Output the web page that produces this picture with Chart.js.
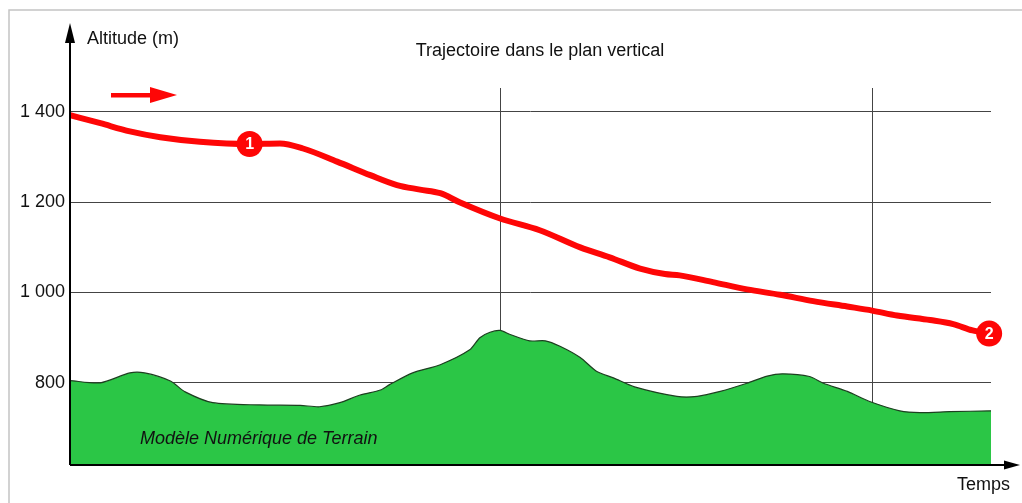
<!DOCTYPE html>
<html>
<head>
<meta charset="utf-8">
<script src="https://cdn.jsdelivr.net/npm/chart.js@4/dist/chart.umd.min.js"></script>
<style>
  html, body { margin: 0; padding: 0; background: #fff; }
</style>
</head>
<body>
<canvas id="profil" width="1022" height="503"></canvas>
<script>
// Data (time in arbitrary units 0-100, altitude in m)
const trajTime = [0, 3.3, 6.5, 9.8, 14.1, 19.5, 22.8, 25.3, 29.0, 32.6, 35.5, 38.0, 40.2, 42.3, 46.7, 51.0, 55.4, 58.6, 61.9, 64.6, 66.2, 69.8, 73.5, 77.1, 80.7, 84.4, 87.1, 89.8, 93.4, 95.9, 98.0, 99.8];
const trajAlt  = [1393, 1375, 1357, 1344, 1334, 1329, 1330, 1319, 1290, 1260, 1238, 1228, 1220, 1200, 1164, 1138, 1100, 1078, 1053, 1041, 1038, 1023, 1007, 995, 981, 969, 960, 949, 939, 930, 916, 909];

const terrainTime = [0, 3.3, 6.5, 8.1, 10.9, 12.5, 15.5, 20.6, 25.0, 27.1, 29.3, 31.5, 33.7, 34.7, 37.2, 40.2, 43.4, 44.5, 45.6, 46.7, 47.8, 49.9, 51.6, 53.2, 55.4, 57.2, 59.0, 61.3, 65.9, 68.1, 70.6, 73.5, 75.7, 77.4, 80.3, 81.8, 84.4, 86.9, 90.1, 92.3, 95.5, 100];
const terrainAlt  = [805, 800, 822, 822, 804, 780, 756, 751, 750, 747, 756, 773, 784, 796, 822, 840, 873, 900, 912, 916, 907, 893, 893, 881, 856, 825, 811, 791, 770, 770, 781, 799, 815, 820, 814, 799, 781, 758, 738, 734, 736, 738];

const markerTime = [19.5, 99.8];
const markerAlt = [1329, 909];
const markerLabels = ['1', '2'];

const altTicks = [800, 1000, 1200, 1400];
const altTickLabels = ['800', '1 000', '1 200', '1 400'];
const timeLines = [46.7, 87.1];

const FONT = "'Liberation Sans', Arial, sans-serif";
const RED = '#fe0606';

function pts(xs, ys) {
    return xs.map((x, i) => ({ x: x, y: ys[i] }));
}

// frame, vertical reference lines, axes with arrows, texts
const decor = {
    id: 'decor',
    beforeDraw(chart) {
        const c = chart.ctx;
        c.save();
        c.fillStyle = '#fff';
        c.fillRect(0, 0, chart.width, chart.height);
        c.strokeStyle = '#c4c4c4';
        c.lineWidth = 1.5;
        c.beginPath();
        c.moveTo(9, chart.height);
        c.lineTo(9, 10);
        c.lineTo(chart.width, 10);
        c.stroke();
        c.restore();
    },
    beforeDatasetsDraw(chart) {
        const c = chart.ctx;
        const a = chart.chartArea;
        const xs = chart.scales.x;
        c.save();
        c.strokeStyle = '#444';
        c.lineWidth = 1;
        timeLines.forEach(t => {
            const px = Math.round(xs.getPixelForValue(t)) + 0.5;
            c.beginPath();
            c.moveTo(px, a.top);
            c.lineTo(px, a.bottom);
            c.stroke();
        });
        c.restore();
    },
    afterDraw(chart) {
        const c = chart.ctx;
        const a = chart.chartArea;
        c.save();

        // axes
        c.strokeStyle = '#000';
        c.fillStyle = '#000';
        c.lineWidth = 2;
        c.beginPath();
        c.moveTo(a.left, a.bottom);
        c.lineTo(a.left, 40);
        c.moveTo(a.left, a.bottom);
        c.lineTo(1006, a.bottom);
        c.stroke();
        c.beginPath();
        c.moveTo(a.left, 23);
        c.lineTo(a.left - 5, 43);
        c.lineTo(a.left + 5, 43);
        c.closePath();
        c.fill();
        c.beginPath();
        c.moveTo(1020, a.bottom);
        c.lineTo(1004, a.bottom - 4.5);
        c.lineTo(1004, a.bottom + 4.5);
        c.closePath();
        c.fill();

        // direction arrow
        c.fillStyle = RED;
        c.fillRect(111, 93, 41, 4.5);
        c.beginPath();
        c.moveTo(177, 95);
        c.lineTo(150, 87);
        c.lineTo(150, 103);
        c.closePath();
        c.fill();

        // texts
        c.fillStyle = '#111';
        c.font = '18px ' + FONT;
        c.textBaseline = 'middle';
        c.textAlign = 'left';
        c.fillText('Altitude (m)', 87, 39);
        c.fillText('Temps', 957, 485);
        c.textAlign = 'center';
        c.fillText('Trajectoire dans le plan vertical', 540, 51);
        c.textAlign = 'left';
        c.font = 'italic 18px ' + FONT;
        c.fillText('Modèle Numérique de Terrain', 140, 439);

        // marker numbers
        const meta = chart.getDatasetMeta(0);
        c.fillStyle = '#fff';
        c.font = 'bold 16px ' + FONT;
        c.textAlign = 'center';
        meta.data.forEach((p, i) => {
            c.fillText(markerLabels[i], p.x, p.y + 1);
        });
        c.restore();
    }
};

const chart = new Chart(document.getElementById('profil'), {
    type: 'line',
    data: {
        datasets: [
            {
                label: 'Repères',
                data: pts(markerTime, markerAlt),
                showLine: false,
                pointRadius: 13,
                pointHoverRadius: 13,
                pointBackgroundColor: RED,
                pointBorderWidth: 0,
                clip: false
            },
            {
                label: 'Trajectoire',
                data: pts(trajTime, trajAlt),
                borderColor: RED,
                borderWidth: 6,
                borderCapStyle: 'round',
                borderJoinStyle: 'round',
                cubicInterpolationMode: 'monotone',
                pointRadius: 0,
                fill: false
            },
            {
                label: 'Modèle Numérique de Terrain',
                data: pts(terrainTime, terrainAlt),
                borderColor: '#1d3f20',
                borderWidth: 1.2,
                backgroundColor: '#2bc646',
                tension: 0.25,
                pointRadius: 0,
                fill: 'start'
            }
        ]
    },
    options: {
        responsive: false,
        animation: false,
        layout: {
            padding: { top: 88, bottom: 38, right: 31, left: 0 }
        },
        plugins: {
            legend: { display: false },
            title: { display: false },
            tooltip: { enabled: false }
        },
        scales: {
            x: {
                type: 'linear',
                min: 0,
                max: 100,
                display: false
            },
            y: {
                min: 618,
                max: 1453,
                afterBuildTicks: (s) => {
                    s.ticks = altTicks.map(v => ({ value: v }));
                },
                afterFit: (s) => {
                    s.width = 70;
                },
                border: { display: false },
                grid: {
                    color: '#444',
                    lineWidth: 1,
                    drawTicks: false
                },
                ticks: {
                    padding: 5,
                    color: '#111',
                    font: { family: FONT, size: 18 },
                    callback: (v) => altTickLabels[altTicks.indexOf(v)]
                }
            }
        }
    },
    plugins: [decor]
});
</script>
</body>
</html>
